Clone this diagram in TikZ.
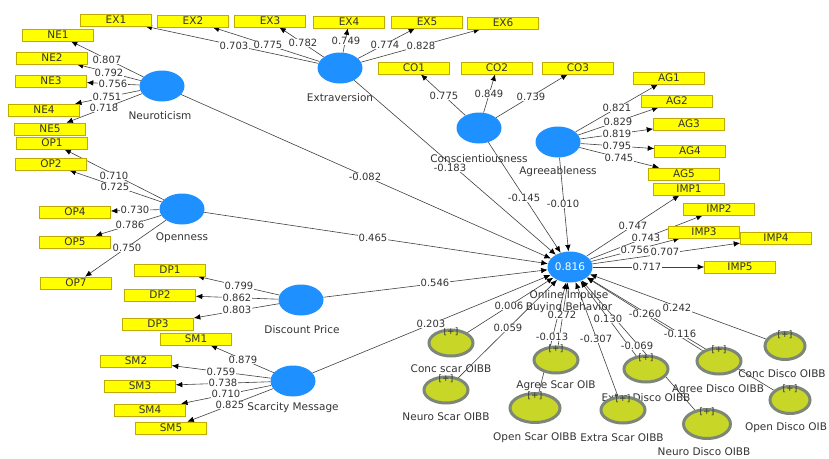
\documentclass[tikz,border=0pt]{standalone}
\usepackage{fontspec}
\setmainfont{DejaVu Sans}
\usetikzlibrary{shapes.geometric,arrows.meta,backgrounds}
\definecolor{lvblue}{RGB}{30,144,255}
\definecolor{indyellow}{RGB}{255,255,0}
\definecolor{indedge}{RGB}{190,170,0}
\definecolor{modgreen}{RGB}{200,214,40}
\definecolor{modgray}{RGB}{125,135,120}
\definecolor{inkgray}{RGB}{51,51,51}
\tikzset{
  lv/.style={ellipse, fill=lvblue, minimum width=45pt, minimum height=31pt, inner sep=0pt},
  ind/.style={rectangle, fill=indyellow, draw=indedge, line width=0.6pt, minimum width=71pt,
    minimum height=12pt, inner sep=0pt, font=\fontsize{10.5}{12}\selectfont, text=inkgray},
  modlv/.style={ellipse, fill=modgreen, draw=modgray, line width=3pt, minimum width=44pt,
    minimum height=26pt, inner sep=0pt, label={[plusmark]north:{[+]}}},
  plusmark/.style={anchor=north, inner sep=0pt, yshift=1pt, font=\fontsize{9}{10}\selectfont, text=inkgray},
  lvname/.style={font=\fontsize{10.5}{12}\selectfont, text=inkgray, inner sep=0pt},
  coef/.style={fill=white, inner sep=0.5pt, font=\fontsize{10}{11}\selectfont, text=inkgray},
  load/.style={draw=black!75, line width=0.6pt, -{Latex[length=6.5pt,width=5.5pt,color=black]}}
}
\begin{document}
\begin{tikzpicture}[x=1pt,y=-1pt]
\useasboundingbox (0,0) rectangle (829,458);

% latent variables
\node[lv] (neu) at (162,86) {};
\node[lvname] (neu-t) at (160,116) {Neuroticism};
\node[lv] (ext) at (340,68) {};
\node[lvname] (ext-t) at (340,98) {Extraversion};
\node[lv] (con) at (479,128) {};
\node[lvname] (con-t) at (479,159) {Conscientiousness};
\node[lv] (agr) at (558,142) {};
\node[lvname] (agr-t) at (558,172) {Agreeableness};
\node[lv] (opn) at (182,209) {};
\node[lvname] (opn-t) at (182,238) {Openness};
\node[lv] (dis) at (301,300) {};
\node[lvname] (dis-t) at (302,330) {Discount Price};
\node[lv] (sca) at (293,381) {};
\node[lvname] (sca-t) at (293,408) {Scarcity Message};
\node[lv, text=white, font=\fontsize{10.5}{12}\selectfont] (oib) at (570,267) {0.816};
\node[lvname, align=center] (oib-t) at (569,302) {Online Impulse\\Buying Behavior};

% indicators
\node[ind] (ex1) at (116,20) {EX1};
\node[ind] (ex2) at (193,21) {EX2};
\node[ind] (ex3) at (270,21) {EX3};
\node[ind] (ex4) at (349,22) {EX4};
\node[ind] (ex5) at (427,22) {EX5};
\node[ind] (ex6) at (503,23) {EX6};
\node[ind] (ne1) at (58,35) {NE1};
\node[ind] (ne2) at (52,58) {NE2};
\node[ind] (ne3) at (51,81) {NE3};
\node[ind] (ne4) at (44,110) {NE4};
\node[ind] (ne5) at (50,129) {NE5};
\node[ind] (op1) at (52,143) {OP1};
\node[ind] (op2) at (51,164) {OP2};
\node[ind] (op4) at (75,212) {OP4};
\node[ind] (op5) at (75,242) {OP5};
\node[ind] (op7) at (76,283) {OP7};
\node[ind] (dp1) at (170,270) {DP1};
\node[ind] (dp2) at (160,295) {DP2};
\node[ind] (dp3) at (158,324) {DP3};
\node[ind] (sm1) at (196,339) {SM1};
\node[ind] (sm2) at (136,361) {SM2};
\node[ind] (sm3) at (140,386) {SM3};
\node[ind] (sm4) at (150,410) {SM4};
\node[ind] (sm5) at (171,428) {SM5};
\node[ind] (co1) at (414,68) {CO1};
\node[ind] (co2) at (497,68) {CO2};
\node[ind] (co3) at (578,68) {CO3};
\node[ind] (ag1) at (669,78) {AG1};
\node[ind] (ag2) at (677,101) {AG2};
\node[ind] (ag3) at (689,124) {AG3};
\node[ind] (ag4) at (690,151) {AG4};
\node[ind] (ag5) at (684,174) {AG5};
\node[ind] (imp1) at (689,189) {IMP1};
\node[ind] (imp2) at (719,209) {IMP2};
\node[ind] (imp4) at (776,238) {IMP4};
\node[ind] (imp3) at (704,232) {IMP3};
\node[ind] (imp5) at (740,267) {IMP5};

% moderating effects
\node[lvname] (csc-t) at (451,369) {Conc scar OIBB};
\node[lvname] (nsc-t) at (446,417) {Neuro Scar OIBB};
\node[lvname] (asc-t) at (556,386) {Agree Scar OIB};
\node[lvname] (osc-t) at (535,438) {Open Scar OIBB};
\node[lvname] (esc-t) at (622,438) {Extra Scar OIBB};
\node[lvname] (edi-t) at (646,398) {Extra Disco OIBB};
\node[lvname] (ndi-t) at (704,452) {Neuro Disco OIBB};
\node[lvname] (adi-t) at (718,390) {Agree Disco OIBB};
\node[lvname] (cdi-t) at (782,374) {Conc Disco OIBB};
\node[lvname] (odi-t) at (786,428) {Open Disco OIB};
\node[modlv] (csc) at (451,343) {};
\node[modlv] (nsc) at (446,390) {};
\node[modlv] (asc) at (556,360) {};
\node[modlv, minimum width=50pt, minimum height=29pt] (osc) at (535,408) {};
\node[modlv] (edi) at (646,369) {};
\node[modlv] (esc) at (623,410) {};
\node[modlv, minimum width=47pt, minimum height=29pt] (ndi) at (707,424) {};
\node[modlv] (adi) at (719,361) {};
\node[modlv, minimum width=40pt, minimum height=27pt] (cdi) at (785,346) {};
\node[modlv, minimum width=40pt, minimum height=27pt] (odi) at (790,400) {};

\begin{scope}[on background layer]
% outer loadings
\draw[load] (neu) -- (ne1);
\draw[load] (neu) -- (ne2);
\draw[load] (neu) -- (ne3);
\draw[load] (neu) -- (ne4);
\draw[load] (neu) -- (ne5);
\draw[load] (ext) -- (ex1);
\draw[load] (ext) -- (ex2);
\draw[load] (ext) -- (ex3);
\draw[load] (ext) -- (ex4);
\draw[load] (ext) -- (ex5);
\draw[load] (ext) -- (ex6);
\draw[load] (con) -- (co1);
\draw[load] (con) -- (co2);
\draw[load] (con) -- (co3);
\draw[load] (agr) -- (ag1);
\draw[load] (agr) -- (ag2);
\draw[load] (agr) -- (ag3);
\draw[load] (agr) -- (ag4);
\draw[load] (agr) -- (ag5);
\draw[load] (opn) -- (op1);
\draw[load] (opn) -- (op2);
\draw[load] (opn) -- (op4);
\draw[load] (opn) -- (op5);
\draw[load] (opn) -- (op7);
\draw[load] (dis) -- (dp1);
\draw[load] (dis) -- (dp2);
\draw[load] (dis) -- (dp3);
\draw[load] (sca) -- (sm1);
\draw[load] (sca) -- (sm2);
\draw[load] (sca) -- (sm3);
\draw[load] (sca) -- (sm4);
\draw[load] (sca) -- (sm5);
\draw[load] (oib) -- (imp1);
\draw[load] (oib) -- (imp2);
\draw[load] (oib) -- (imp3);
\draw[load] (oib) -- (imp4);
\draw[load] (oib) -- (imp5);
% inner model
\draw[load] (neu) -- (oib);
\draw[load] (ext) -- (oib);
\draw[load] (con) -- (oib);
\draw[load] (agr) -- (oib);
\draw[load] (opn) -- (oib);
\draw[load] (dis) -- (oib);
\draw[load] (sca) -- (oib);
\draw[load] (csc) -- (oib);
\draw[load] (nsc) -- (oib);
\draw[load] (asc) -- (oib);
\draw[load] (osc) -- (oib);
\draw[load] (esc) -- (oib);
\draw[load] (edi) -- (oib);
\draw[load] (ndi) -- (oib);
\draw[load] (adi) -- (oib);
\draw[load] (cdi) -- (oib);
\draw[load] (odi) -- (oib);
\end{scope}

% loadings values
\node[coef] (w-ne1) at (107,60) {0.807};
\node[coef] (w-ne2) at (109,73) {0.792};
\node[coef] (w-ne3) at (113,84) {0.756};
\node[coef] (w-ne4) at (107,97) {0.751};
\node[coef] (w-ne5) at (104,108) {0.718};
\node[coef] (w-ex1) at (234,46) {0.703};
\node[coef] (w-ex2) at (268,45) {0.775};
\node[coef] (w-ex3) at (303,43) {0.782};
\node[coef] (w-ex4) at (346,41) {0.749};
\node[coef] (w-ex5) at (385,45) {0.774};
\node[coef] (w-ex6) at (421,46) {0.828};
\node[coef] (w-co1) at (444,96) {0.775};
\node[coef] (w-co2) at (489,94) {0.849};
\node[coef] (w-co3) at (531,97) {0.739};
\node[coef] (w-ag1) at (617,108) {0.821};
\node[coef] (w-ag2) at (618,122) {0.829};
\node[coef] (w-ag3) at (617,134) {0.819};
\node[coef] (w-ag4) at (617,146) {0.795};
\node[coef] (w-ag5) at (619,158) {0.745};
\node[coef] (w-op1) at (114,176) {0.710};
\node[coef] (w-op2) at (115,187) {0.725};
\node[coef] (w-op4) at (135,210) {0.730};
\node[coef] (w-op5) at (130,225) {0.786};
\node[coef] (w-op7) at (127,248) {0.750};
\node[coef] (w-dp1) at (239,286) {0.799};
\node[coef] (w-dp2) at (237,298) {0.862};
\node[coef] (w-dp3) at (237,310) {0.803};
\node[coef] (w-sm1) at (243,360) {0.879};
\node[coef] (w-sm2) at (221,372) {0.759};
\node[coef] (w-sm3) at (223,383) {0.738};
\node[coef] (w-sm4) at (226,394) {0.710};
\node[coef] (w-sm5) at (230,405) {0.825};
\node[coef] (w-imp1) at (633,226) {0.747};
\node[coef] (w-imp2) at (646,238) {0.743};
\node[coef] (w-imp3) at (635,250) {0.756};
\node[coef] (w-imp4) at (665,252) {0.707};
\node[coef] (w-imp5) at (647,267) {0.717};

% path coefficients
\node[coef] (p-neu) at (365,177) {-0.082};
\node[coef] (p-ext) at (450,168) {-0.183};
\node[coef] (p-con) at (524,198) {-0.145};
\node[coef] (p-agr) at (563,204) {-0.010};
\node[coef] (p-opn) at (373,238) {0.465};
\node[coef] (p-dis) at (435,283) {0.546};
\node[coef] (p-sca) at (431,324) {0.203};
\node[coef] (p-csc) at (509,306) {0.006};
\node[coef] (p-nsc) at (508,328) {0.059};
\node[coef] (p-osc) at (562,315) {0.272};
\node[coef] (p-asc) at (552,337) {-0.013};
\node[coef] (p-esc) at (596,339) {-0.307};
\node[coef] (p-ndi) at (608,319) {0.130};
\node[coef] (p-edi) at (637,346) {-0.069};
\node[coef] (p-odi) at (645,314) {-0.260};
\node[coef] (p-adi) at (680,334) {-0.116};
\node[coef] (p-cdi) at (677,308) {0.242};
\end{tikzpicture}
\end{document}
